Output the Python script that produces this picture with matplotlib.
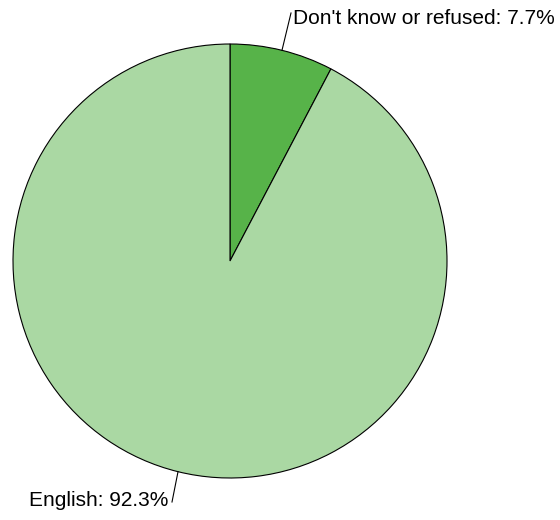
import numpy as np
import matplotlib
matplotlib.use("Agg")
import matplotlib.pyplot as plt

plt.rcParams['font.family'] = ['Liberation Sans', 'DejaVu Sans']

categories = ["Don't know or refused", "English"]
shares = [7.7, 92.3]
colors = ['#57b349', '#aad8a3']

W, H = 560, 520
fig = plt.figure(figsize=(W / 100, H / 100), dpi=100)
ax = fig.add_axes([0, 0, 1, 1])
ax.set_xlim(0, W)
ax.set_ylim(0, H)
ax.set_aspect('equal')
ax.axis('off')

cx, cy, r = 230, H - 261, 217
wedges, _ = ax.pie(shares, colors=colors, startangle=90, counterclock=False,
                   center=(cx, cy), radius=r, frame=True,
                   wedgeprops=dict(edgecolor='black', linewidth=0.8))
ax.set_xlim(0, W)
ax.set_ylim(0, H)
ax.axis('off')

# label positions (pixel coords from top)
line_ends = [(291, 13), (172, 502)]
text_pos = [(293, 19, 'left'), (168, 500, 'right')]

for w, cat, val, (lx, ly), (tx, ty, ha) in zip(wedges, categories, shares, line_ends, text_pos):
    mid = np.deg2rad((w.theta1 + w.theta2) / 2)
    ax_pt = (cx + r * np.cos(mid), cy + r * np.sin(mid))
    ax.plot([ax_pt[0], lx], [ax_pt[1], H - ly], color='black', lw=0.8)
    ax.text(tx, H - ty, f"{cat}: {val}%", ha=ha, va='center', fontsize=15)

fig.savefig('out.png', dpi=100)
